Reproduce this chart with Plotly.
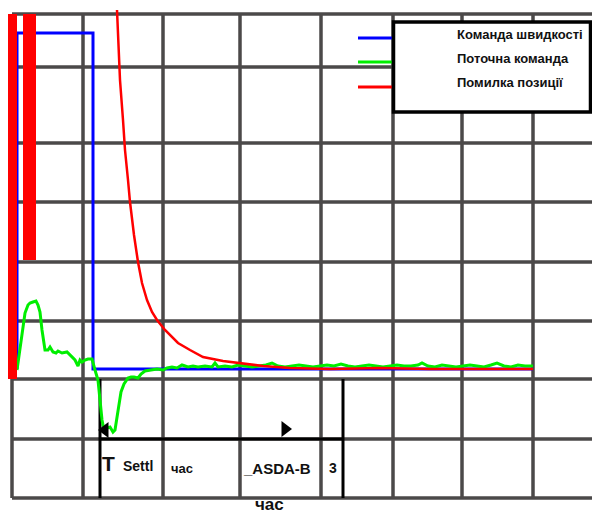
import plotly.graph_objects as go

# ---------------- data (time units on x, amplitude units on y) ----------------
speed_t = [17, 17, 93, 93, 533]
speed_v = [144, 480, 480, 144, 144]

current_t = [17, 20, 22, 25, 28, 30, 33, 36, 38, 40, 42, 45, 48, 50, 53, 56, 58, 62, 67, 70,
             72, 75, 78, 80, 82, 85, 88, 92, 95, 98, 100, 102, 104, 107, 110, 113, 115, 118, 121, 124,
             128, 131, 134, 138, 141, 145, 150, 157, 163, 167, 172, 177, 182, 188, 193, 198,
             205, 212, 215, 218, 225, 232, 238, 245, 252, 259, 266, 272, 278, 285, 292, 299,
             306, 313, 320, 327, 334, 341, 348, 355, 362, 369, 376, 383, 390, 397, 404, 411,
             418, 422, 428, 435, 442, 449, 456, 463, 470, 477, 484, 491, 497, 504, 511, 518, 525, 533]
current_v = [143, 163, 178, 200, 208, 210, 211, 212, 208, 201, 183, 163, 163, 166, 161, 160, 162, 160, 161, 158,
             155, 153, 147, 153, 151, 153, 154, 154, 143, 133, 113, 93, 83, 85, 86, 81, 83, 103, 121, 129,
             135, 136, 136, 135, 139, 142, 143, 144, 143, 145, 146, 145, 148, 146, 147, 146,
             147, 146, 150, 146, 147, 146, 148, 147, 146, 147, 148, 150, 147, 146, 147, 148,
             147, 146, 147, 148, 147, 149, 147, 146, 147, 148, 147, 146, 147, 148, 147, 147,
             148, 150, 147, 146, 148, 147, 146, 147, 148, 147, 146, 148, 150, 147, 146, 148, 147, 147]

error_t = [117, 118, 120, 123, 125, 128, 130, 134, 138, 142, 147, 152, 157, 165, 178, 190,
           203, 223, 238, 263, 290, 330, 380, 430, 480, 533]
error_v = [503, 473, 433, 393, 363, 333, 311, 278, 251, 230, 213, 201, 193, 183, 170, 163,
           156, 152, 150, 147, 145, 144, 145, 144, 144, 144]

# saturated position-error bars at the left edge: (t_start, t_end, v_bottom, v_top)
error_bars = [(8, 17, 134, 499), (23, 36, 253, 499)]

# grid divisions
grid_t = [12, 83, 163, 240, 321, 393, 462, 533]
grid_v = [499, 446, 370, 311, 251, 192, 134, 74, 15]

# settling-time bracket
settle_start = 100
settle_end = 343

series_names = ["Команда швидкості", "Поточна команда", "Помилка позиції"]
series_colors = ["#0000ff", "#00ee00", "#ff0000"]

W, H = 592, 513
FONT = "Liberation Sans, Arial, sans-serif"

fig = go.Figure()

fig.add_trace(go.Scatter(x=speed_t, y=speed_v, mode="lines",
                         line=dict(color=series_colors[0], width=3), showlegend=False, hoverinfo="skip"))
fig.add_trace(go.Scatter(x=current_t, y=current_v, mode="lines",
                         line=dict(color=series_colors[1], width=3), showlegend=False, hoverinfo="skip"))
fig.add_trace(go.Scatter(x=error_t, y=error_v, mode="lines",
                         line=dict(color=series_colors[2], width=2.5), showlegend=False, hoverinfo="skip"))
for (t0, t1, v0, v1) in error_bars:
    fig.add_trace(go.Scatter(x=[t0, t1, t1, t0, t0], y=[v0, v0, v1, v1, v0], mode="lines",
                             fill="toself", fillcolor="#ff0000", line=dict(width=0),
                             showlegend=False, hoverinfo="skip"))

# arrows of the settling bracket
fig.add_trace(go.Scatter(x=[settle_start + 5], y=[83], mode="markers",
                         marker=dict(symbol="triangle-left", size=14, color="black"),
                         showlegend=False, hoverinfo="skip"))
fig.add_trace(go.Scatter(x=[285], y=[84], mode="markers",
                         marker=dict(symbol="triangle-right", size=14, color="black"),
                         showlegend=False, hoverinfo="skip"))

shapes = []
GRID = "#4b4949"
for t in grid_t:
    shapes.append(dict(type="line", xref="x", yref="y", x0=t, x1=t, y0=grid_v[-1], y1=grid_v[0],
                       line=dict(color=GRID, width=3.5), layer="below"))
for v in grid_v:
    shapes.append(dict(type="line", xref="x", yref="y", x0=grid_t[0], x1=W, y0=v, y1=v,
                       line=dict(color=GRID, width=3.5), layer="below"))
# settling bracket
bracket_top = 134
bracket_mid = 74
shapes += [
    dict(type="line", xref="x", yref="y", x0=settle_start, x1=settle_start, y0=grid_v[-1], y1=bracket_top,
         line=dict(color="black", width=3), layer="below"),
    dict(type="line", xref="x", yref="y", x0=settle_end, x1=settle_end, y0=grid_v[-1], y1=bracket_top,
         line=dict(color="black", width=3), layer="below"),
    dict(type="line", xref="x", yref="y", x0=settle_start, x1=settle_end, y0=bracket_mid, y1=bracket_mid,
         line=dict(color="black", width=3), layer="below"),
]

def px(x):
    return x / W

def py(y):
    return 1 - y / H

# legend: sample lines outside the box, box with text
leg_y = [38, 62, 87]
for c, yy in zip(series_colors, leg_y):
    shapes.append(dict(type="line", xref="paper", yref="paper", x0=px(358), x1=px(398), y0=py(yy), y1=py(yy),
                       line=dict(color=c, width=3)))
shapes.append(dict(type="rect", xref="paper", yref="paper", x0=px(393.5), x1=px(590.5), y0=py(22), y1=py(112),
                   line=dict(color="black", width=3.5), fillcolor="white"))

annotations = []
leg_text_y = [35, 58.5, 83]
for name, yy in zip(series_names, leg_text_y):
    annotations.append(dict(xref="paper", yref="paper", x=px(455), y=py(yy), xanchor="left", yanchor="middle",
                            text="<b>%s</b>" % name, showarrow=False,
                            font=dict(family=FONT, size=13, color="#111111")))

labels = [("T", 108, 463, 21), ("Settl", 138, 466, 14), ("час", 182, 468, 13),
          ("_ASDA-B", 277, 468, 15), ("3", 333, 468, 14)]
for txt, x, y, s in labels:
    annotations.append(dict(xref="paper", yref="paper", x=px(x), y=py(y), xanchor="center", yanchor="middle",
                            text="<b>%s</b>" % txt, showarrow=False,
                            font=dict(family=FONT, size=s, color="#111111")))
# x-axis title at the bottom edge
annotations.append(dict(xref="paper", yref="paper", x=px(269), y=-0.004, xanchor="center", yanchor="bottom",
                        text="<b>час</b>", showarrow=False, borderpad=0,
                        font=dict(family=FONT, size=17, color="#111111")))

fig.update_layout(
    width=W, height=H,
    margin=dict(l=0, r=0, t=0, b=0, pad=0),
    paper_bgcolor="white", plot_bgcolor="white",
    xaxis=dict(range=[0, W], visible=False, fixedrange=True),
    yaxis=dict(range=[0, H], visible=False, fixedrange=True),
    shapes=shapes, annotations=annotations,
    showlegend=False,
)

fig.write_html("out.html", post_script="document.body.style.margin='0';",
               config={"displayModeBar": False})
